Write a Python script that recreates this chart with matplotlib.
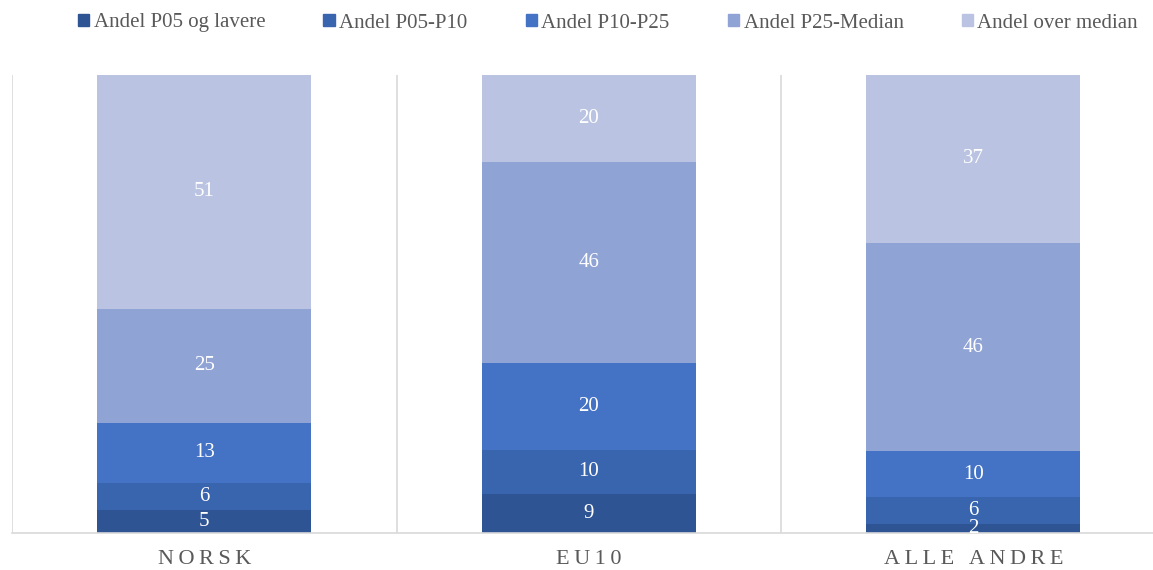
import matplotlib.pyplot as plt
import numpy as np
from matplotlib.patches import Patch

grupper = ['NORSK', 'EU10', 'ALLE ANDRE']
serier = ['Andel P05 og lavere', 'Andel P05-P10', 'Andel P10-P25', 'Andel P25-Median', 'Andel over median']

p05_lavere = [5, 9, 2]
p05_p10 = [6, 10, 6]
p10_p25 = [13, 20, 10]
p25_median = [25, 46, 46]
over_median = [51, 20, 37]

farger = ['#2F5494', '#3964AE', '#4472C4', '#8FA3D5', '#BAC4E2']

plt.rcParams['font.family'] = ['Liberation Serif', 'DejaVu Serif']

verdier = np.array([p05_lavere, p05_p10, p10_p25, p25_median, over_median], dtype=float)
andel = verdier / verdier.sum(axis=0)  # 100 % stablet

fig = plt.figure(figsize=(11.53, 5.70), dpi=100)
ax = fig.add_axes([12 / 1153, 1 - 533 / 570, 1153.5 / 1153, (533 - 75) / 570])

x = np.arange(len(grupper))
bunn = np.zeros(len(grupper))
for i in range(len(serier)):
    ax.bar(x, andel[i], bottom=bunn, width=0.557, color=farger[i], label=serier[i])
    for j in range(len(grupper)):
        ax.text(x[j], bunn[j] + andel[i][j] / 2, str(int(verdier[i][j])),
                ha='center', va='center', color='white', fontsize=15)
    bunn += andel[i]

for v in [-0.5, 0.5, 1.5, 2.5]:
    ax.axvline(v, color='#D9D9D9', lw=1.2, zorder=0)

ax.set_xlim(-0.5, 2.5)
ax.set_ylim(0, 1)
ax.set_yticks([])
ax.set_xticks([])
for s in ['top', 'left', 'right']:
    ax.spines[s].set_visible(False)
ax.spines['bottom'].set_color('#D9D9D9')
ax.spines['bottom'].set_linewidth(1.2)

for j, g in enumerate(grupper):
    ax.text(x[j], -0.058, '\u2009'.join(g), ha='center', va='center',
            color='#595959', fontsize=16, transform=ax.get_xaxis_transform())

handles = [Patch(color=farger[i], label=serier[i]) for i in range(len(serier))]
fig.legend(handles=handles, loc='center', bbox_to_anchor=(608 / 1153, 1 - 23 / 570), ncol=5,
           frameon=False, fontsize=15, handlelength=0.55, handleheight=0.55,
           handletextpad=0.2, columnspacing=2.8, labelcolor='#595959')

fig.savefig('out.png', dpi=100)
